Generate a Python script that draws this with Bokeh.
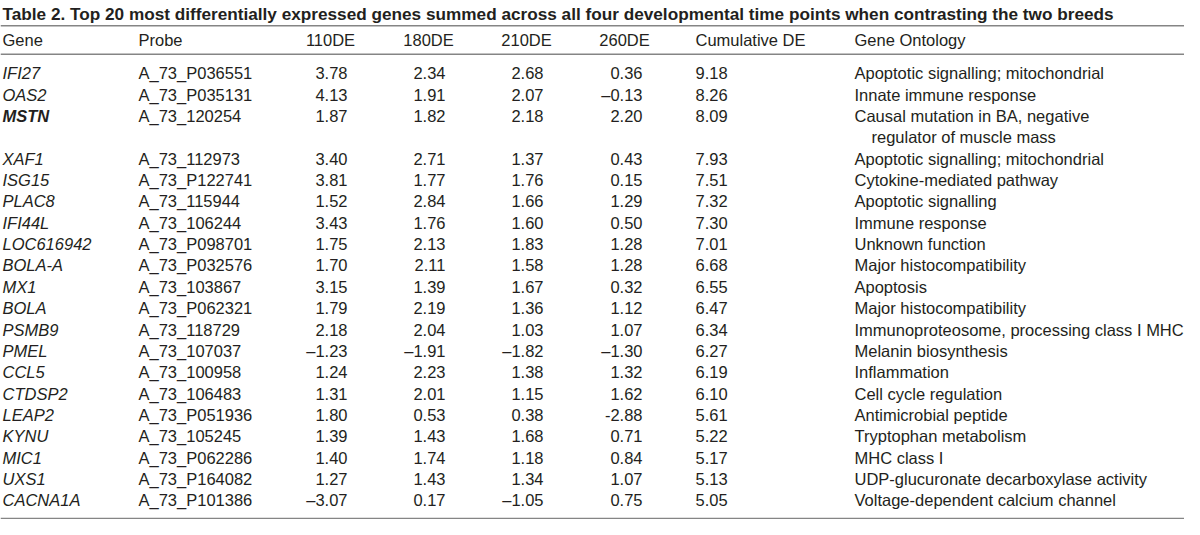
from bokeh.plotting import figure
from bokeh.models import Range1d, ColumnDataSource
from bokeh.core.properties import value
from bokeh.embed import file_html
from bokeh.resources import INLINE

title = ("Table 2. Top 20 most differentially expressed genes summed across all four "
         "developmental time points when contrasting the two breeds")
headers = ["Gene", "Probe", "110DE", "180DE", "210DE", "260DE", "Cumulative DE", "Gene Ontology"]

genes = ["IFI27", "OAS2", "MSTN", "XAF1", "ISG15", "PLAC8", "IFI44L", "LOC616942", "BOLA-A", "MX1",
         "BOLA", "PSMB9", "PMEL", "CCL5", "CTDSP2", "LEAP2", "KYNU", "MIC1", "UXS1", "CACNA1A"]
probes = ["A_73_P036551", "A_73_P035131", "A_73_120254", "A_73_112973", "A_73_P122741",
          "A_73_115944", "A_73_106244", "A_73_P098701", "A_73_P032576", "A_73_103867",
          "A_73_P062321", "A_73_118729", "A_73_107037", "A_73_100958", "A_73_106483",
          "A_73_P051936", "A_73_105245", "A_73_P062286", "A_73_P164082", "A_73_P101386"]
de110 = [3.78, 4.13, 1.87, 3.40, 3.81, 1.52, 3.43, 1.75, 1.70, 3.15,
         1.79, 2.18, -1.23, 1.24, 1.31, 1.80, 1.39, 1.40, 1.27, -3.07]
de180 = [2.34, 1.91, 1.82, 2.71, 1.77, 2.84, 1.76, 2.13, 2.11, 1.39,
         2.19, 2.04, -1.91, 2.23, 2.01, 0.53, 1.43, 1.74, 1.43, 0.17]
de210 = [2.68, 2.07, 2.18, 1.37, 1.76, 1.66, 1.60, 1.83, 1.58, 1.67,
         1.36, 1.03, -1.82, 1.38, 1.15, 0.38, 1.68, 1.18, 1.34, -1.05]
de260 = [0.36, -0.13, 2.20, 0.43, 0.15, 1.29, 0.50, 1.28, 1.28, 0.32,
         1.12, 1.07, -1.30, 1.32, 1.62, -2.88, 0.71, 0.84, 1.07, 0.75]
cumulative = [9.18, 8.26, 8.09, 7.93, 7.51, 7.32, 7.30, 7.01, 6.68, 6.55,
              6.47, 6.34, 6.27, 6.19, 6.10, 5.61, 5.22, 5.17, 5.13, 5.05]
ontology = ["Apoptotic signalling; mitochondrial", "Innate immune response",
            "Causal mutation in BA, negative|regulator of muscle mass",
            "Apoptotic signalling; mitochondrial", "Cytokine-mediated pathway",
            "Apoptotic signalling", "Immune response", "Unknown function",
            "Major histocompatibility", "Apoptosis", "Major histocompatibility",
            "Immunoproteosome, processing class I MHC", "Melanin biosynthesis",
            "Inflammation", "Cell cycle regulation", "Antimicrobial peptide",
            "Tryptophan metabolism", "MHC class I", "UDP-glucuronate decarboxylase activity",
            "Voltage-dependent calcium channel"]
bold_genes = ["MSTN"]
hyphen_cells = [("260DE", 15)]  # printed with a plain hyphen in the source

W, H = 1184, 519
p = figure(width=W, height=H, output_backend="svg", toolbar_location=None,
           x_range=Range1d(0, W), y_range=Range1d(533, 1), min_border=0)
p.axis.visible = False
p.grid.visible = False
p.outline_line_color = None
p.background_fill_color = "white"
p.border_fill_color = "white"

FONT = value("Liberation Sans")
FS = "16.5px"
TXT = "#231f20"
LINE = "#858585"

row0, pitch = 75.5, 21.9
def slot_y(i):
    return row0 + pitch * (i + (1 if i > 2 else 0))
ys = [slot_y(i) for i in range(len(genes))]

# title
p.text(x=[2], y=[15], text=[title], text_font=FONT,
       text_font_style="bold", text_font_size="17.2px", text_color=TXT,
       text_baseline="alphabetic", text_align="left")

# rules
p.segment(x0=[0, 0, 0], x1=[W, W, W], y0=[27, 56, 532], y1=[27, 56, 532],
          line_color=LINE, line_width=1.5)

# headers
hdr_x = [2, 138, 330, 428, 526, 624, 695, 854]
hdr_align = ["left", "left", "center", "center", "center", "center", "left", "left"]
for h, x, a in zip(headers, hdr_x, hdr_align):
    p.text(x=[x], y=[42], text=[h], text_font=FONT, text_font_size=FS, text_color=TXT,
           text_baseline="middle", text_align=a)

# gene names
reg = [i for i, g in enumerate(genes) if g not in bold_genes]
bld = [i for i, g in enumerate(genes) if g in bold_genes]
p.text(x=[2] * len(reg), y=[ys[i] for i in reg], text=[genes[i] for i in reg],
       text_font=FONT, text_font_style="italic", text_font_size=FS, text_color=TXT,
       text_baseline="middle", text_align="left")
p.text(x=[2] * len(bld), y=[ys[i] for i in bld], text=[genes[i] for i in bld],
       text_font=FONT, text_font_style="bold italic", text_font_size=FS, text_color=TXT,
       text_baseline="middle", text_align="left")

# probes
p.text(x=[138] * len(probes), y=ys, text=probes, text_font=FONT, text_font_size=FS,
       text_color=TXT, text_baseline="middle", text_align="left")

def fmt(v, col, i):
    s = f"{abs(v):.2f}"
    if v < 0:
        s = ("-" if (col, i) in hyphen_cells else "\u2013") + s
    return s

num_cols = [("110DE", de110, 347), ("180DE", de180, 445), ("210DE", de210, 543), ("260DE", de260, 642)]
for name, vals, xr in num_cols:
    src = ColumnDataSource(dict(x=[xr] * len(vals), y=ys, t=[fmt(v, name, i) for i, v in enumerate(vals)]))
    p.text(x="x", y="y", text="t", source=src, text_font=FONT, text_font_size=FS,
           text_color=TXT, text_baseline="middle", text_align="right")

p.text(x=[695] * len(cumulative), y=ys, text=[f"{v:.2f}" for v in cumulative], text_font=FONT,
       text_font_size=FS, text_color=TXT, text_baseline="middle", text_align="left")

# ontology (with a wrapped continuation line)
ox, oy, ot = [], [], []
for i, o in enumerate(ontology):
    parts = o.split("|")
    ox.append(854); oy.append(ys[i]); ot.append(parts[0])
    for k, extra in enumerate(parts[1:], start=1):
        ox.append(871); oy.append(ys[i] + pitch * k); ot.append(extra)
p.text(x=ox, y=oy, text=ot, text_font=FONT, text_font_size=FS, text_color=TXT,
       text_baseline="middle", text_align="left")

open("out.html", "w").write(file_html(p, INLINE))
